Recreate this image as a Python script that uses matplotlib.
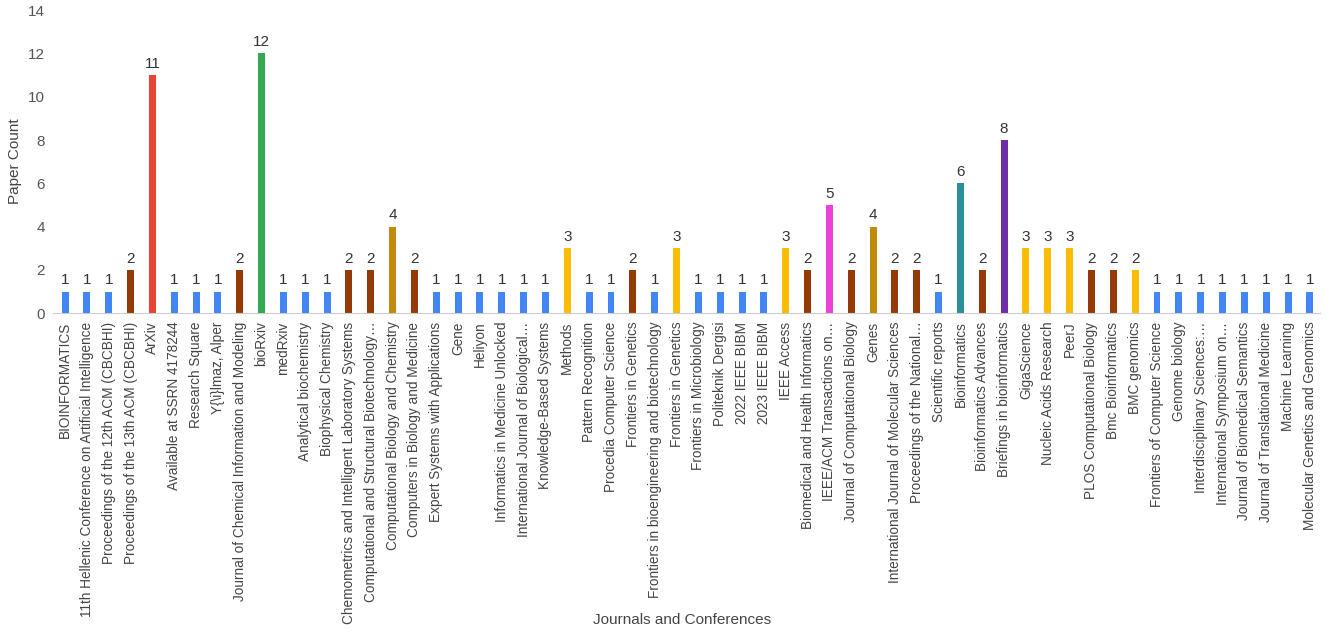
import matplotlib.pyplot as plt

plt.rcParams['font.family'] = ['Liberation Sans', 'DejaVu Sans']

venues = [
    'BIOINFORMATICS',
    '11th Hellenic Conference on Artificial Intelligence',
    'Proceedings of the 12th ACM (CBCBHI)',
    'Proceedings of the 13th ACM (CBCBHI)',
    'ArXiv',
    'Available at SSRN 4178244',
    'Research Square',
    'Y{\\i}lmaz, Alper',
    'Journal of Chemical Information and Modeling',
    'bioRxiv',
    'medRxiv',
    'Analytical biochemistry',
    'Biophysical Chemistry',
    'Chemometrics and Intelligent Laboratory Systems',
    'Computational and Structural Biotechnology\u2026',
    'Computational Biology and Chemistry',
    'Computers in Biology and Medicine',
    'Expert Systems with Applications',
    'Gene',
    'Heliyon',
    'Informatics in Medicine Unlocked',
    'International Journal of Biological\u2026',
    'Knowledge-Based Systems',
    'Methods',
    'Pattern Recognition',
    'Procedia Computer Science',
    'Frontiers in Genetics',
    'Frontiers in bioengineering and biotechnology',
    'Frontiers in Genetics',
    'Frontiers in Microbiology',
    'Politeknik Dergisi',
    '2022 IEEE BIBM',
    '2023 IEEE BIBM',
    'IEEE Access',
    'Biomedical and Health Informatics',
    'IEEE/ACM Transactions on\u2026',
    'Journal of Computational Biology',
    'Genes',
    'International Journal of Molecular Sciences',
    'Proceedings of the National\u2026',
    'Scientific reports',
    'Bioinformatics',
    'Bioinformatics Advances',
    'Briefings in bioinformatics',
    'GigaScience',
    'Nucleic Acids Research',
    'PeerJ',
    'PLOS Computational Biology',
    'Bmc Bioinformatics',
    'BMC genomics',
    'Frontiers of Computer Science',
    'Genome biology',
    'Interdisciplinary Sciences:\u2026',
    'International Symposium on\u2026',
    'Journal of Biomedical Semantics',
    'Journal of Translational Medicine',
    'Machine Learning',
    'Molecular Genetics and Genomics',
]

counts = [1, 1, 1, 2, 11, 1, 1, 1, 2, 12,
          1, 1, 1, 2, 2, 4, 2, 1, 1, 1,
          1, 1, 1, 3, 1, 1, 2, 1, 3, 1,
          1, 1, 1, 3, 2, 5, 2, 4, 2, 2,
          1, 6, 2, 8, 3, 3, 3, 2, 2, 2,
          1, 1, 1, 1, 1, 1, 1, 1]

# colour key per bar
bar_keys = ['b', 'b', 'b', 'br', 'r', 'b', 'b', 'b', 'br', 'g',
            'b', 'b', 'b', 'br', 'br', 'go', 'br', 'b', 'b', 'b',
            'b', 'b', 'b', 'y', 'b', 'b', 'br', 'b', 'y', 'b',
            'b', 'b', 'b', 'y', 'br', 'm', 'br', 'go', 'br', 'br',
            'b', 't', 'br', 'p', 'y', 'y', 'y', 'br', 'br', 'y',
            'b', 'b', 'b', 'b', 'b', 'b', 'b', 'b']

palette = {
    'b': '#4285F4', 'br': '#953A05', 'r': '#EA4335', 'g': '#34A853',
    'go': '#BF8B0A', 'y': '#FBBC04', 'm': '#EE40DA', 't': '#2A8F99',
    'p': '#6F2DA8',
}
colors = [palette[k] for k in bar_keys]

fig = plt.figure(figsize=(13.25, 6.34), dpi=100)
ax = fig.add_axes([0.040, 0.506, 0.956, 0.478])

x = list(range(len(venues)))
bars = ax.bar(x, counts, width=0.32, color=colors)

for xi, c in zip(x, counts):
    ax.text(xi, c + 0.2, str(c), ha='center', va='bottom', fontsize=11, color='#333333')

ax.set_xlim(-0.55, len(venues) - 0.55)
ax.set_ylim(0, 14)
ax.set_yticks(range(0, 15, 2))
ax.set_xticks(x)
ax.set_xticklabels(venues, rotation=90, fontsize=9.8, color='#444444')
ax.tick_params(axis='y', labelsize=11, colors='#555555', length=0, pad=6)
ax.tick_params(axis='x', length=0, pad=6)

for s in ['top', 'right', 'left']:
    ax.spines[s].set_visible(False)
ax.spines['bottom'].set_color('#CCCCCC')

ax.set_ylabel('Paper Count', fontsize=11, color='#444444', labelpad=4)
fig.text(0.515, 0.022, 'Journals and Conferences', ha='center', va='center',
         fontsize=11, color='#444444')

fig.savefig('out.png', dpi=100)
